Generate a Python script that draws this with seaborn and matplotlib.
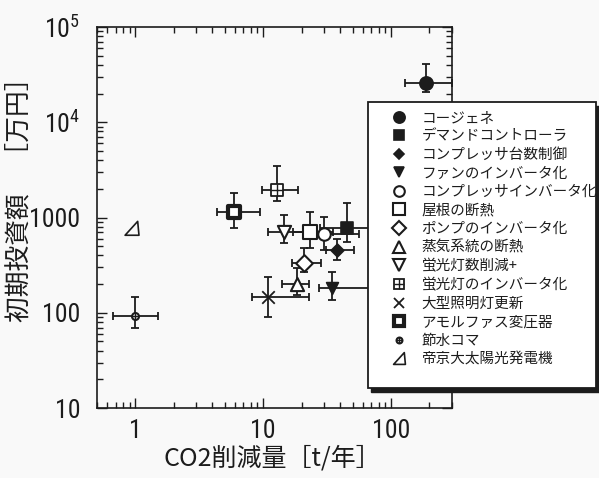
import numpy as np
import pandas as pd
import matplotlib
matplotlib.use("Agg")
import matplotlib.pyplot as plt
import seaborn as sns
from matplotlib import font_manager
from matplotlib.path import Path
from matplotlib.lines import Line2D
from matplotlib.patches import Rectangle
from matplotlib.ticker import FixedLocator, FixedFormatter, LogLocator, NullFormatter

# ---------------- data ----------------
names = ["コージェネ", "デマンドコントローラ", "コンプレッサ台数制御", "ファンのインバータ化",
         "コンプレッサインバータ化", "屋根の断熱", "ポンプのインバータ化", "蒸気系統の断熱",
         "蛍光灯数削減+", "蛍光灯のインバータ化", "大型照明灯更新", "アモルファス変圧器",
         "節水コマ", "帝京大太陽光発電機"]
co2 = [187, 45, 38, 34.7, 29.8, 23.2, 20.8, 18.4, 14.5, 12.8, 10.9, 5.9, 1.0, 0.94]
cost = [26000, 770, 456, 181, 667, 710, 335, 199, 710, 1945, 147, 1135, 92.5, 770]
co2_lo = [129, 28, 31, 27.2, 22, 17, 16.8, 14.0, 10.9, 9.7, 8.1, 4.34, 0.67, np.nan]
co2_hi = [300, 150, 51, 150, 56, 35, 28.1, 22.7, 24, 18.7, 22.7, 9.5, 1.50, np.nan]
cost_lo = [21000, 557, 358, 136, 456, 476, 270, 153, 537, 1500, 91, 782, 68.7, np.nan]
cost_hi = [40700, 1430, 590, 270, 1005, 1150, 476, 293, 1062, 3470, 239, 1820, 147, np.nan]
x_ticks = [1, 10, 100]
x_ticklabels = ["1", "10", "100"]
y_ticks = [10, 100, 1000, 1e4, 1e5]
y_ticklabels = ["10", "100", "1000", r"$\mathregular{10^4}$", r"$\mathregular{10^5}$"]
xlabel = "CO2削減量［t/年］"
ylabel = "初期投資額　［万円］"

df = pd.DataFrame({"name": names, "co2": co2, "cost": cost,
                   "co2_lo": co2_lo, "co2_hi": co2_hi,
                   "cost_lo": cost_lo, "cost_hi": cost_hi})

# ---------------- style ----------------
sns.set_theme(style="ticks")
avail = {f.name for f in font_manager.fontManager.ttflist}
narrow = None
for cand in ["Liberation Sans Narrow", "DejaVu Sans Condensed", "Roboto Condensed", "Liberation Sans"]:
    if cand in avail:
        narrow = cand
        break
cjk = "Noto Sans CJK JP"
plt.rcParams["font.family"] = [cjk, "DejaVu Sans"]
plt.rcParams["mathtext.fontset"] = "custom"
plt.rcParams["mathtext.rm"] = narrow

INK = "#1c1c1c"
BG = "#f9f9f9"

tri = Path([(-0.8, -0.8), (0.8, -0.8), (0.65, 0.8), (-0.8, -0.8)],
           [Path.MOVETO, Path.LINETO, Path.LINETO, Path.CLOSEPOLY])

# marker specs: (marker, size(pt), face, edgewidth, overlay)
specs = [
    ("o", 9.5, INK, 1.2, None),
    ("s", 9.0, INK, 1.2, None),
    ("D", 6.5, INK, 1.2, None),
    ("v", 8.5, INK, 1.2, None),
    ("o", 9.0, "white", 1.5, None),
    ("s", 9.5, "white", 1.5, None),
    ("D", 8.5, "white", 1.5, None),
    ("^", 9.5, "white", 1.5, None),
    ("v", 9.5, "white", 1.5, None),
    ("s", 9.0, "white", 1.3, "+"),
    ("x", 9.0, None, 1.3, None),
    ("s", 9.0, "white", 3.0, None),
    ("o", 5.0, "white", 1.5, "+"),
    (tri, 10.0, "none", 1.2, None),
]

fig = plt.figure(figsize=(5.99, 4.78), dpi=100, facecolor=BG)
ax = fig.add_axes([97 / 599, 1 - 408 / 478, (452 - 97) / 599, (408 - 27) / 478])
ax.set_facecolor(BG)
ax.set_xscale("log")
ax.set_yscale("log")
ax.set_xlim(0.5, 300)
ax.set_ylim(10, 1e5)

# error bars
for i, r in df.iterrows():
    if np.isnan(r.co2_lo):
        continue
    ax.errorbar([r.co2], [r.cost],
                xerr=[[r.co2 - r.co2_lo], [r.co2_hi - r.co2]],
                yerr=[[r.cost - r.cost_lo], [r.cost_hi - r.cost]],
                fmt="none", ecolor=INK, elinewidth=1.3, capsize=3, capthick=1.3, zorder=2)

# markers via seaborn
for i, r in df.iterrows():
    m, ms, fc, mew, ov = specs[i]
    if fc is None:
        sns.scatterplot(x=[r.co2], y=[r.cost], ax=ax, marker=m, s=ms ** 2,
                        color=INK, linewidth=mew, zorder=3, legend=False)
    else:
        sns.scatterplot(x=[r.co2], y=[r.cost], ax=ax, marker=m, s=ms ** 2,
                        facecolor=fc, edgecolor=INK, linewidth=mew, zorder=3, legend=False)
    if ov is not None:
        sns.scatterplot(x=[r.co2], y=[r.cost], ax=ax, marker=ov, s=(ms * 0.9) ** 2,
                        color=INK, linewidth=1.0, zorder=4, legend=False)

# axes styling
for sp in ax.spines.values():
    sp.set_visible(True)
    sp.set_linewidth(1.2)
    sp.set_color(INK)
ax.tick_params(which="both", direction="in", top=True, right=True, colors=INK, width=1.0)
ax.tick_params(which="major", length=7)
ax.tick_params(axis="x", which="major", pad=8)
ax.tick_params(axis="y", which="major", pad=12)
ax.tick_params(which="minor", length=4)
ax.xaxis.set_major_locator(FixedLocator(x_ticks))
ax.xaxis.set_major_formatter(FixedFormatter(x_ticklabels))
ax.yaxis.set_major_locator(FixedLocator(y_ticks))
ax.yaxis.set_major_formatter(FixedFormatter(y_ticklabels))
ax.xaxis.set_minor_locator(LogLocator(base=10, subs=np.arange(2, 10)))
ax.yaxis.set_minor_locator(LogLocator(base=10, subs=np.arange(2, 10)))
ax.xaxis.set_minor_formatter(NullFormatter())
ax.yaxis.set_minor_formatter(NullFormatter())
for lab in ax.get_xticklabels() + ax.get_yticklabels():
    lab.set_family([narrow, "DejaVu Sans"])
    lab.set_fontsize(18.5)
    lab.set_color(INK)

ax.set_xlabel(xlabel, fontsize=18, color=INK, family=[cjk, "DejaVu Sans"])
ax.set_ylabel(ylabel, fontsize=18.5, color=INK, family=[cjk, "DejaVu Sans"])
ax.xaxis.set_label_coords((272 - 97) / 355, (408 - 446) / 381)
ax.yaxis.set_label_coords((33 - 97) / 355, (408 - 193) / 381)

# legend box with shadow (figure coords)
lx0, lx1, ly0, ly1 = 368 / 599, 596 / 599, 1 - 388 / 478, 1 - 102 / 478
fig.patches.append(Rectangle((lx0 + 3 / 599, ly0 - 4 / 478), lx1 - lx0, ly1 - ly0,
                             transform=fig.transFigure, facecolor=INK, edgecolor=INK, zorder=5))
fig.patches.append(Rectangle((lx0, ly0), lx1 - lx0, ly1 - ly0, transform=fig.transFigure,
                             facecolor="white", edgecolor=INK, linewidth=1.3, zorder=6))

handles = []
for i in range(len(names)):
    m, ms, fc, mew, ov = specs[i]
    if fc is None:
        h = Line2D([], [], linestyle="none", marker=m, markersize=ms * 0.85,
                   markeredgecolor=INK, markeredgewidth=mew, color=INK)
    else:
        h = Line2D([], [], linestyle="none", marker=m, markersize=ms * 0.85,
                   markerfacecolor=fc, markeredgecolor=INK, markeredgewidth=mew, color=INK)
    if ov is not None:
        h2 = Line2D([], [], linestyle="none", marker=ov, markersize=ms * 0.8,
                    markeredgecolor=INK, markeredgewidth=1.0, color=INK)
        h = (h, h2)
    handles.append(h)
leg = fig.legend(handles, names, loc="upper left", bbox_to_anchor=(388 / 599, 1 - 111 / 478),
                 frameon=False, fontsize=10.5, handlelength=1.5, handletextpad=0.8,
                 labelspacing=0.31, borderpad=0, borderaxespad=0)
leg.set_zorder(7)
for t in leg.get_texts():
    t.set_color(INK)

fig.savefig("out.png", dpi=100, facecolor=BG)
